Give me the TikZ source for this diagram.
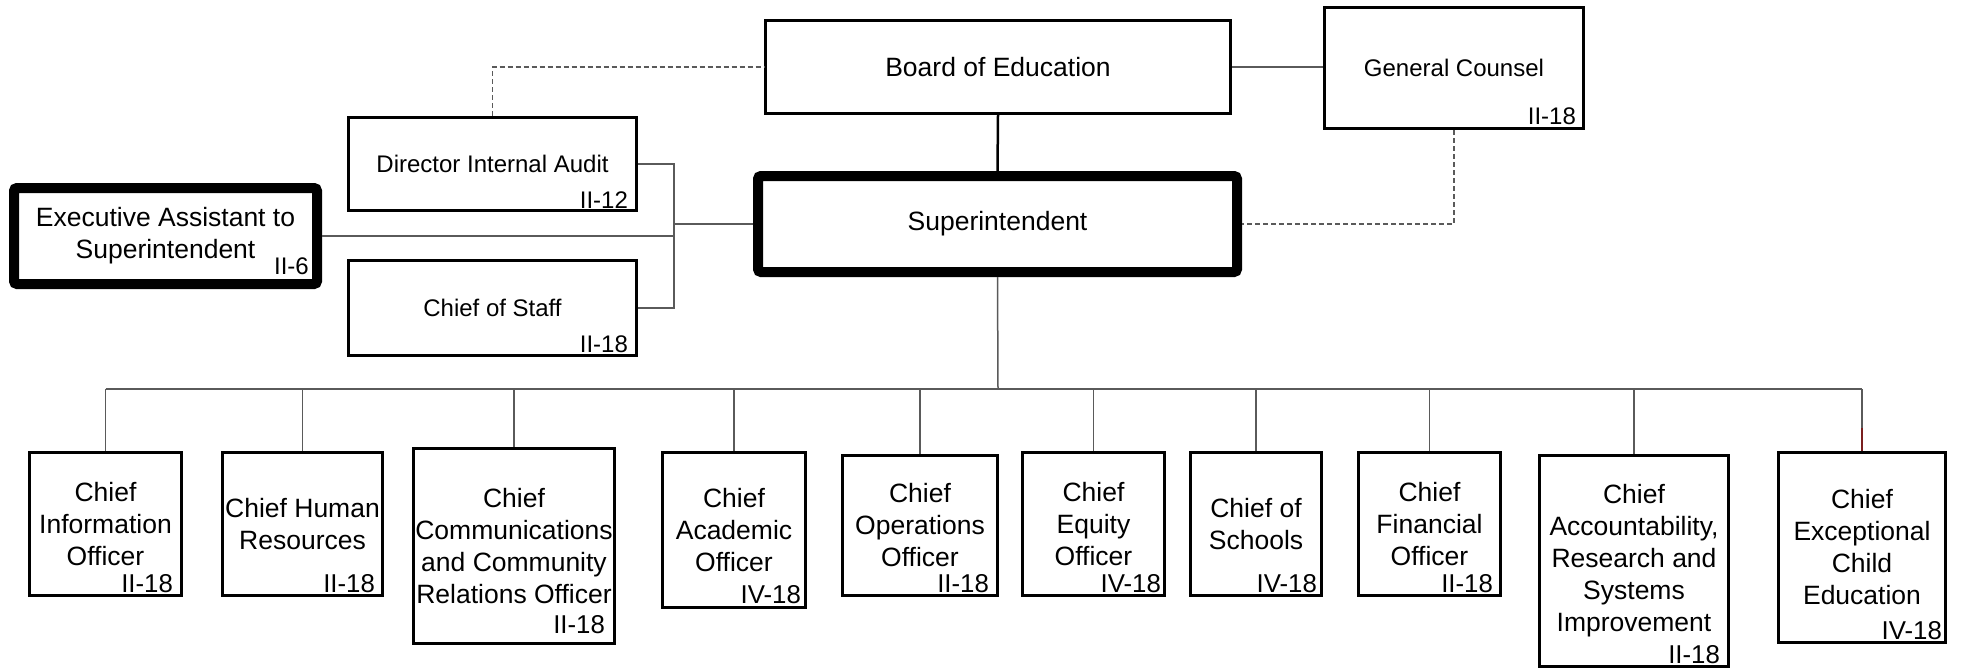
\documentclass[tikz,border=0pt]{standalone}
\usepackage{fontspec}
\setmainfont{Liberation Sans}
\definecolor{linegray}{HTML}{5A5A5A}
\definecolor{dropred}{HTML}{7A1F1F}
\tikzset{
  box/.style={draw=black, line width=3.2pt, fill=white, align=center, inner sep=0pt,
              font=\fontsize{26.5}{32}\selectfont},
  sbox/.style={box, font=\fontsize{24}{29}\selectfont},
  heavy/.style={box, line width=10pt, rounded corners=3pt},
  code/.style={inner sep=0pt, anchor=base east, font=\fontsize{25.8}{30}\selectfont},
  scode/.style={code, font=\fontsize{24}{29}\selectfont},
  conn/.style={draw=linegray, line width=1.5pt},
  dconn/.style={conn, dash pattern=on 5pt off 3pt},
}
\begin{document}
\begin{tikzpicture}[x=1pt, y=-1pt]
\useasboundingbox[fill=white] (0,0) rectangle (1963,670);

% top part
\node[box, minimum width=465, minimum height=93] (board) at (998,67) {Board of Education};
\node[sbox, minimum width=259, minimum height=121] (gc) at (1454,68) {General Counsel};
\node[sbox, minimum width=288, minimum height=93] (dir) at (492.5,164) {Director Internal Audit};
\node[sbox, minimum width=288, minimum height=95] (cos) at (492.5,308) {Chief of Staff};
\node[heavy, minimum width=479, minimum height=96] (sup) at (997.5,224) {Superintendent};
\node[heavy, minimum width=303, minimum height=96] (exec) at (165.5,236) {Executive Assistant to\\Superintendent};

\node[scode] (gcc) at ([shift={(-9,-6)}]gc.south east) {II-18};
\node[scode] (dirc) at ([shift={(-10,-4)}]dir.south east) {II-12};
\node[scode] (cosc) at ([shift={(-10,-5)}]cos.south east) {II-18};
\node[scode] (execc) at ([shift={(-13,-15)}]exec.south east) {II-6};

% bottom boxes
\node[box, minimum width=152, minimum height=143] (b1) at (105.5,524) {Chief\\Information\\Officer};
\node[box, minimum width=160, minimum height=143] (b2) at (302.5,524) {Chief Human\\Resources};
\node[box, minimum width=201, minimum height=195] (b3) at (514,546) {Chief\\Communications\\and Community\\Relations Officer};
\node[box, minimum width=143, minimum height=155] (b4) at (734,530) {Chief\\Academic\\Officer};
\node[box, minimum width=155, minimum height=140] (b5) at (920,525.5) {Chief\\Operations\\Officer};
\node[box, minimum width=142, minimum height=143] (b6) at (1093.5,524) {Chief\\Equity\\Officer};
\node[box, minimum width=131, minimum height=143] (b7) at (1256,524) {Chief of\\Schools};
\node[box, minimum width=142, minimum height=143] (b8) at (1429.5,524) {Chief\\Financial\\Officer};
\node[box, minimum width=189, minimum height=211] (b9) at (1634,561) {Chief\\Accountability,\\Research and\\Systems\\Improvement};
\node[box, minimum width=167, minimum height=190] (b10) at (1862,547.5) {Chief\\Exceptional\\Child\\Education};

\node[code] (c1) at ([shift={(-10,-5)}]b1.south east) {II-18};
\node[code] (c2) at ([shift={(-9,-5)}]b2.south east) {II-18};
\node[code] (c3) at ([shift={(-11,-12)}]b3.south east) {II-18};
\node[code] (c4) at ([shift={(-6,-6)}]b4.south east) {IV-18};
\node[code] (c5) at ([shift={(-10,-5)}]b5.south east) {II-18};
\node[code] (c6) at ([shift={(-5,-5)}]b6.south east) {IV-18};
\node[code] (c7) at ([shift={(-6,-5)}]b7.south east) {IV-18};
\node[code] (c8) at ([shift={(-9,-5)}]b8.south east) {II-18};
\node[code] (c9) at ([shift={(-10,-5)}]b9.south east) {II-18};
\node[code] (c10) at ([shift={(-5,-5)}]b10.south east) {IV-18};

% helper coordinates
\coordinate (brx) at (674,224);
\coordinate (bus) at (998,389);

% connectors
\draw[dconn] (dir.north) |- (board.west);
\draw[conn] (board.east) -- (board.east -| gc.west);
\draw[black, line width=2.5pt] (board.south) -- (sup.north);
\draw[dconn] (gc.south) |- (sup.east);
\draw[conn] (dir.east) -| (brx) |- (cos.east);
\draw[conn] (sup.west) -- (brx);
\draw[conn] (exec.east) -- (exec.east -| brx);
\draw[conn] (sup.south) -- (bus);
\draw[conn] (b1.north |- bus) -- (b10.north |- bus);
\foreach \b in {b1,b2,b3,b4,b5,b6,b7,b8,b9,b10}
  \draw[conn] (\b.north |- bus) -- (\b.north);
\draw[dropred, line width=1.5pt] (b10.north) -- ++(0,-23);
\end{tikzpicture}
\end{document}
